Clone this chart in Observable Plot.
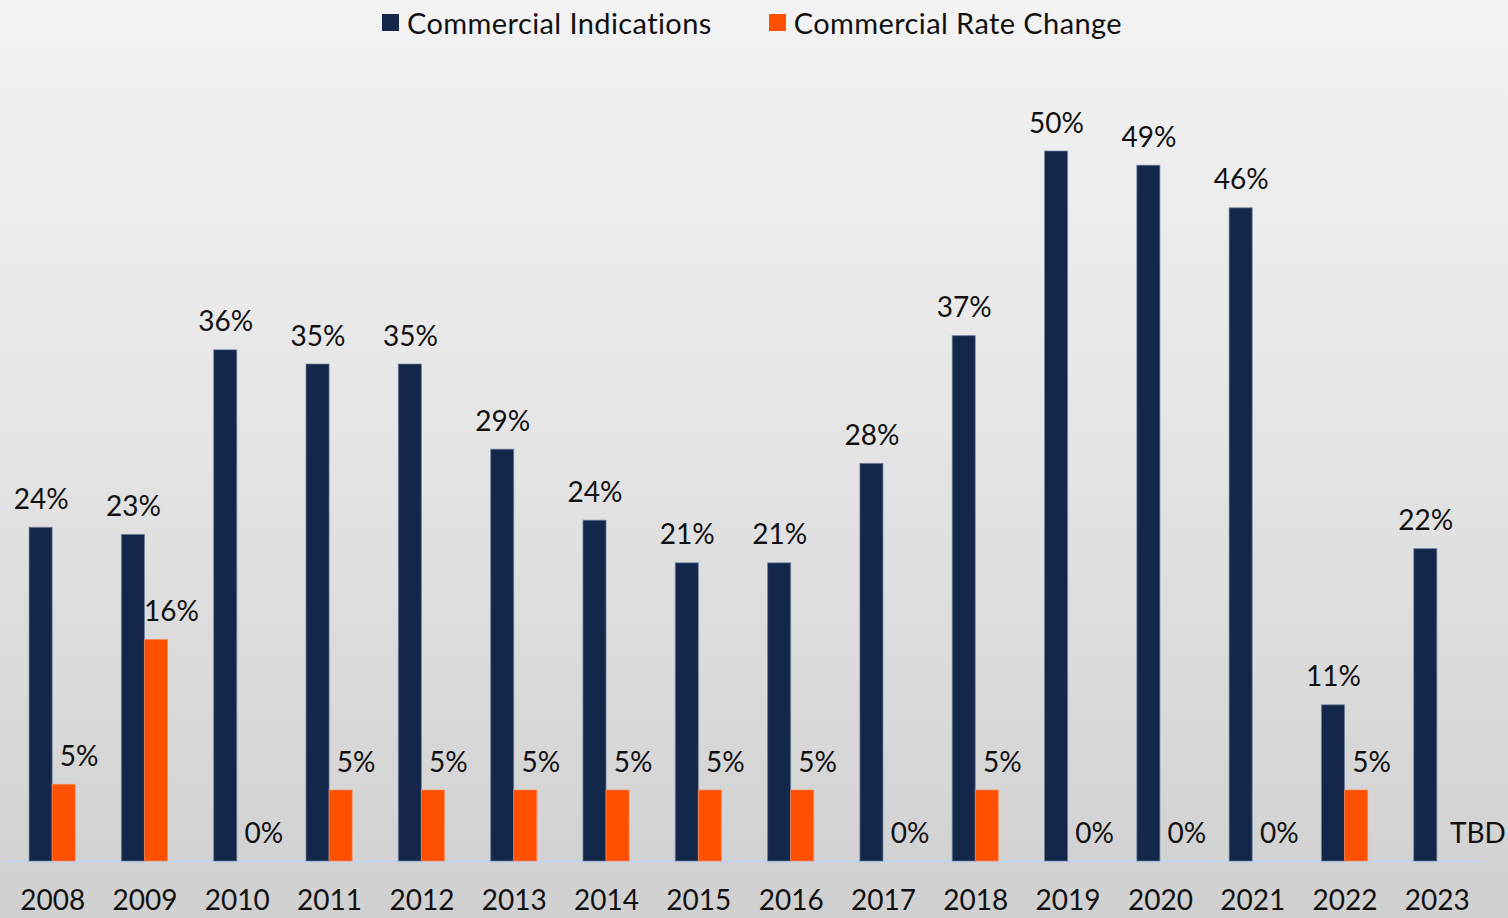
<!DOCTYPE html>
<html>
<head>
<meta charset="utf-8">
<script src="https://cdn.jsdelivr.net/npm/d3@7"></script>
<script src="https://cdn.jsdelivr.net/npm/@observablehq/plot@0.6"></script>
<style>
  html, body { margin: 0; padding: 0; }
  body {
    width: 1508px; height: 918px; overflow: hidden;
    background: linear-gradient(to bottom, #f3f3f3 0%, #e6e6e6 45%, #d0d0d0 100%);
    font-family: Lato, "Open Sans", sans-serif;
  }
  #legend {
    height: 44px; display: flex; justify-content: center; align-items: center;
    gap: 57px; font-size: 29px; letter-spacing: 0.4px; color: #111; padding-right: 4px;
  }
  .item { display: flex; align-items: center; gap: 8px; }
  .sw { width: 17px; height: 17px; display: inline-block; }
  #chart svg { display: block; background: transparent; }
</style>
</head>
<body>
<div id="legend"></div>
<div id="chart"></div>
<script>
const years = ["2008","2009","2010","2011","2012","2013","2014","2015","2016","2017","2018","2019","2020","2021","2022","2023"];
const indications = [23.5, 23, 36, 35, 35, 29, 24, 21, 21, 28, 37, 50, 49, 46, 11, 22];
const rateChange = [5.4, 15.6, 0, 5, 5, 5, 5, 5, 5, 0, 5, 0, 0, 0, 5, null];
const seriesNames = ["Commercial Indications", "Commercial Rate Change"];
const colors = ["#13274a", "#ff5000"];
const pendingLabel = "TBD";

const data = years.map((year, i) => ({year, ind: indications[i], rate: rateChange[i]}));

// legend
const legend = document.getElementById("legend");
seriesNames.forEach((name, i) => {
  const it = document.createElement("div");
  it.className = "item";
  it.innerHTML = `<span class="sw" style="background:${colors[i]}"></span><span>${name}</span>`;
  legend.appendChild(it);
});

const width = 1508, height = 874;
const marginLeft = 6, marginRight = 25;
const paddingInner = 0.5, paddingOuter = 0.25;
const step = (width - marginLeft - marginRight) / (years.length - paddingInner + 2 * paddingOuter);
const bandwidth = step * (1 - paddingInner);
const inset = bandwidth / 2;

const chart = Plot.plot({
  width, height,
  marginLeft, marginRight, marginTop: 107, marginBottom: 57,
  style: {fontFamily: "Lato, 'Open Sans', sans-serif", fontSize: "28px", color: "#111", background: "transparent"},
  x: {type: "band", domain: years, paddingInner, paddingOuter, round: false, label: null, tickSize: 0, tickPadding: 29},
  y: {domain: [0, 50], axis: null},
  marks: [
    Plot.ruleY([0], {stroke: "#c3d3ec", strokeWidth: 2}),
    Plot.barY(data, {x: "year", y: "ind", fill: colors[0], insetRight: inset, stroke: "#7083a3", strokeWidth: 1, strokeOpacity: 0.7}),
    Plot.barY(data.filter(d => d.rate != null), {x: "year", y: "rate", fill: colors[1], insetLeft: inset, stroke: "#ff8a5a", strokeWidth: 1, strokeOpacity: 0.6}),
    Plot.text(data, {x: "year", y: "ind", text: d => Math.round(d.ind) + "%", dx: -inset / 2, dy: -19, lineAnchor: "bottom", fill: "#111"}),
    Plot.text(data.filter(d => d.rate != null), {x: "year", y: "rate", text: d => Math.round(d.rate) + "%", dx: inset / 2 + 15, dy: -19, lineAnchor: "bottom", fill: "#111"}),
    Plot.text(data.filter(d => d.rate == null), {x: "year", y: () => 0, text: () => pendingLabel, dx: inset / 2 + 29, dy: -19, lineAnchor: "bottom", fill: "#111"})
  ]
});
document.getElementById("chart").appendChild(chart);
</script>
</body>
</html>
